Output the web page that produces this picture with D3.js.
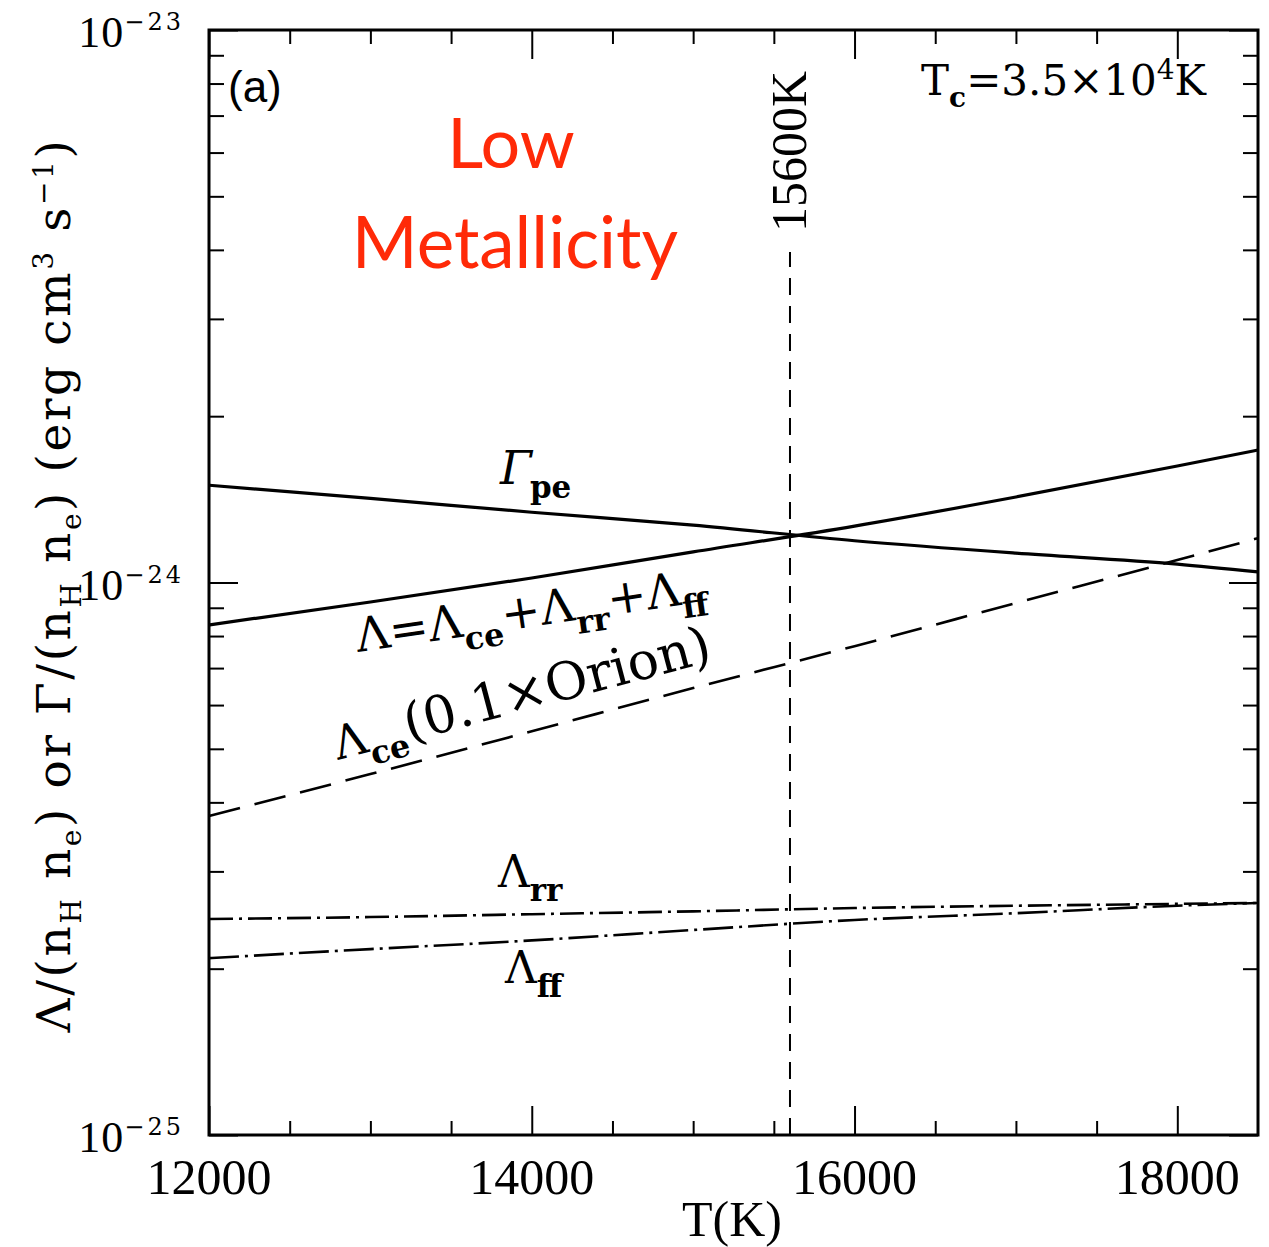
<!DOCTYPE html>
<html><head><meta charset="utf-8">
<script src="https://cdn.jsdelivr.net/npm/d3@7"></script>
<style>body{margin:0;background:#fff}</style>
</head><body>
<svg id="c" width="1269" height="1247"></svg>
<script>
// ---- data ----
const temps     = [12000, 13000, 14000, 15000, 16000, 17000, 18000, 18500];
const gammaPe   = [1.50e-24, 1.42e-24, 1.34e-24, 1.27e-24, 1.19e-24, 1.13e-24, 1.08e-24, 1.045e-24];
const lambdaTot = [8.38e-25, 9.22e-25, 1.019e-24, 1.136e-24, 1.265e-24, 1.428e-24, 1.625e-24, 1.737e-24];
const lambdaCe  = [3.78e-25, 4.50e-25, 5.38e-25, 6.44e-25, 7.67e-25, 9.18e-25, 1.098e-24, 1.203e-24];
const lambdaRr  = [2.46e-25, 2.48e-25, 2.51e-25, 2.54e-25, 2.575e-25, 2.60e-25, 2.62e-25, 2.63e-25];
const lambdaFf  = [2.09e-25, 2.17e-25, 2.25e-25, 2.35e-25, 2.45e-25, 2.52e-25, 2.60e-25, 2.63e-25];
const xMajorTicks = [12000, 14000, 16000, 18000];
const xTickLabels = ["12000", "14000", "16000", "18000"];
const yMajorTicks = [1e-25, 1e-24, 1e-23];
const yTickExps   = ["−25", "−24", "−23"];
const tMark = 15600;
const tMarkLabel = "15600K";

// ---- layout ----
const L = 209, R = 1258, T = 30, B = 1135;
const svg = d3.select("#c");
const x = d3.scaleLinear().domain([12000, 18500]).range([L, R]);
const y = d3.scaleLog().domain([1e-25, 1e-23]).range([B, T]);

const serif = "'Liberation Serif', 'DejaVu Serif', serif";
const serif2 = "'DejaVu Serif', serif";

function rich(textSel, parts) {
  let cur = 0;
  parts.forEach(p => {
    const s = p.shift || 0;
    const ts = textSel.append("tspan").text(p.t).attr("dy", s - cur);
    cur = s;
    if (p.size) ts.attr("font-size", p.size);
    if (p.weight) ts.attr("font-weight", p.weight);
    if (p.style) ts.attr("font-style", p.style);
    if (p.family) ts.attr("font-family", p.family);
    if (p.dx) ts.attr("dx", p.dx);
    if (p.ls) ts.attr("letter-spacing", p.ls);
  });
  return textSel;
}

// minor ticks
const xMinor = d3.range(12500, 18500, 500).filter(v => !xMajorTicks.includes(v));
const yMinor = [];
[1e-25, 1e-24].forEach(d => { for (let k = 2; k <= 9; k++) yMinor.push(k * d); });

const axStyle = g => { g.select(".domain").remove(); g.selectAll("line").attr("stroke", "#000").attr("stroke-width", 2); g.selectAll("text").remove(); };

svg.append("g").attr("transform", `translate(0,${B})`).call(d3.axisBottom(x).tickValues(xMajorTicks).tickSize(-29).tickSizeOuter(0)).call(axStyle);
svg.append("g").attr("transform", `translate(0,${B})`).call(d3.axisBottom(x).tickValues(xMinor).tickSize(-14).tickSizeOuter(0)).call(axStyle);
svg.append("g").attr("transform", `translate(0,${T})`).call(d3.axisTop(x).tickValues(xMajorTicks).tickSize(-29).tickSizeOuter(0)).call(axStyle);
svg.append("g").attr("transform", `translate(0,${T})`).call(d3.axisTop(x).tickValues(xMinor).tickSize(-14).tickSizeOuter(0)).call(axStyle);
svg.append("g").attr("transform", `translate(${L},0)`).call(d3.axisLeft(y).tickValues(yMajorTicks).tickSize(-29).tickSizeOuter(0)).call(axStyle);
svg.append("g").attr("transform", `translate(${L},0)`).call(d3.axisLeft(y).tickValues(yMinor).tickSize(-15).tickSizeOuter(0)).call(axStyle);
svg.append("g").attr("transform", `translate(${R},0)`).call(d3.axisRight(y).tickValues(yMajorTicks).tickSize(-29).tickSizeOuter(0)).call(axStyle);
svg.append("g").attr("transform", `translate(${R},0)`).call(d3.axisRight(y).tickValues(yMinor).tickSize(-15).tickSizeOuter(0)).call(axStyle);

// frame
svg.append("rect").attr("x", L).attr("y", T).attr("width", R - L).attr("height", B - T)
  .attr("fill", "none").attr("stroke", "#000").attr("stroke-width", 3);

// x tick labels
xMajorTicks.forEach((v, i) => {
  svg.append("text").attr("x", x(v)).attr("y", 1194).attr("text-anchor", "middle")
    .attr("font-family", serif).attr("font-size", 50).text(xTickLabels[i]);
});
// y tick labels
yMajorTicks.forEach((v, i) => {
  const t = svg.append("text").attr("x", 184).attr("y", y(v) + 17).attr("text-anchor", "end")
    .attr("font-family", serif).attr("font-size", 44);
  rich(t, [{ t: "10", ls: 1 }, { t: yTickExps[i], size: 24, shift: -17, family: serif2, ls: 3 }]);
});

// axis titles
svg.append("text").attr("x", 732).attr("y", 1236).attr("text-anchor", "middle")
  .attr("font-family", serif).attr("font-size", 50).text("T(K)");

const yl = svg.append("text").attr("transform", "translate(70,585) rotate(-90)").attr("text-anchor", "middle")
  .attr("font-family", serif2).attr("font-size", 47).attr("letter-spacing", 2.6);
rich(yl, [
  { t: "Λ/(n" }, { t: "H", size: 28, shift: 11 }, { t: " n", shift: 0 }, { t: "e", size: 28, shift: 11 },
  { t: ") or Γ/(n", shift: 0 }, { t: "H", size: 28, shift: 11 }, { t: " n", shift: 0 }, { t: "e", size: 28, shift: 11 },
  { t: ") (erg cm", shift: 0 }, { t: "3", size: 28, shift: -17 }, { t: " s", shift: 0 }, { t: "−1", size: 28, shift: -17 },
  { t: ")", shift: 0 }
]);

// lines
const lineGen = vals => d3.line().x((d, i) => x(temps[i])).y(d => y(d)).curve(d3.curveMonotoneX)(vals);
const plot = svg.append("g");
plot.append("path").attr("d", lineGen(gammaPe)).attr("fill", "none").attr("stroke", "#000").attr("stroke-width", 3.2);
plot.append("path").attr("d", lineGen(lambdaTot)).attr("fill", "none").attr("stroke", "#000").attr("stroke-width", 3.2);
plot.append("path").attr("d", lineGen(lambdaCe)).attr("fill", "none").attr("stroke", "#000").attr("stroke-width", 2.6)
  .attr("stroke-dasharray", "32,15");
plot.append("path").attr("d", lineGen(lambdaRr)).attr("fill", "none").attr("stroke", "#000").attr("stroke-width", 2.6)
  .attr("stroke-dasharray", "24,6,3,6");
plot.append("path").attr("d", lineGen(lambdaFf)).attr("fill", "none").attr("stroke", "#000").attr("stroke-width", 2.6)
  .attr("stroke-dasharray", "30,6,3,6");

// vertical marker
plot.append("line").attr("x1", x(tMark)).attr("x2", x(tMark)).attr("y1", B).attr("y2", 252)
  .attr("stroke", "#000").attr("stroke-width", 2).attr("stroke-dasharray", "17,11");
svg.append("text").attr("transform", `translate(${x(tMark) + 16},232) rotate(-90)`)
  .attr("font-family", serif).attr("font-size", 50).text(tMarkLabel);

// annotations
svg.append("text").attr("x", 228).attr("y", 102).attr("font-family", "'Liberation Sans', sans-serif")
  .attr("font-size", 44).text("(a)");
const tc = svg.append("text").attr("x", 1206).attr("y", 95).attr("text-anchor", "end")
  .attr("font-family", serif2).attr("font-size", 42);
rich(tc, [{ t: "T" }, { t: "c", size: 28, shift: 12, weight: "bold" }, { t: "=3.5×10", shift: 0 }, { t: "4", size: 28, shift: -16 }, { t: "K", shift: 0 }]);

svg.append("text").attr("x", 511).attr("y", 168).attr("text-anchor", "middle").attr("fill", "#ff2a08")
  .attr("font-family", "Lato, 'Open Sans', sans-serif").attr("font-size", 70).text("Low");
svg.append("text").attr("x", 515).attr("y", 268).attr("text-anchor", "middle").attr("fill", "#ff2a08")
  .attr("font-family", "Lato, 'Open Sans', sans-serif").attr("font-size", 71).text("Metallicity");

const gp = svg.append("text").attr("x", 500).attr("y", 484).attr("font-family", serif2).attr("font-size", 46);
rich(gp, [{ t: "Γ", style: "italic" }, { t: "pe", size: 31, shift: 14, weight: "bold", dx: -2 }]);

const lt = svg.append("text").attr("transform", "translate(358,652) rotate(-8.3)").attr("font-family", serif2).attr("font-size", 47);
rich(lt, [
  { t: "Λ=Λ" }, { t: "ce", size: 32, shift: 14, weight: "bold" },
  { t: "+Λ", shift: 0 }, { t: "rr", size: 32, shift: 14, weight: "bold" },
  { t: "+Λ", shift: 0 }, { t: "ff", size: 32, shift: 14, weight: "bold" }
]);

const lc = svg.append("text").attr("transform", "translate(338,760) rotate(-14.8)").attr("font-family", serif2).attr("font-size", 46);
rich(lc, [{ t: "Λ" }, { t: "ce", size: 32, shift: 14, weight: "bold" }, { t: "(0.1×Orion)", size: 52, shift: 0 }]);

const lr = svg.append("text").attr("x", 498).attr("y", 887).attr("font-family", serif2).attr("font-size", 44);
rich(lr, [{ t: "Λ" }, { t: "rr", size: 31, shift: 14, weight: "bold" }]);
const lf = svg.append("text").attr("x", 505).attr("y", 983).attr("font-family", serif2).attr("font-size", 44);
rich(lf, [{ t: "Λ" }, { t: "ff", size: 31, shift: 14, weight: "bold" }]);
</script>
</body></html>
